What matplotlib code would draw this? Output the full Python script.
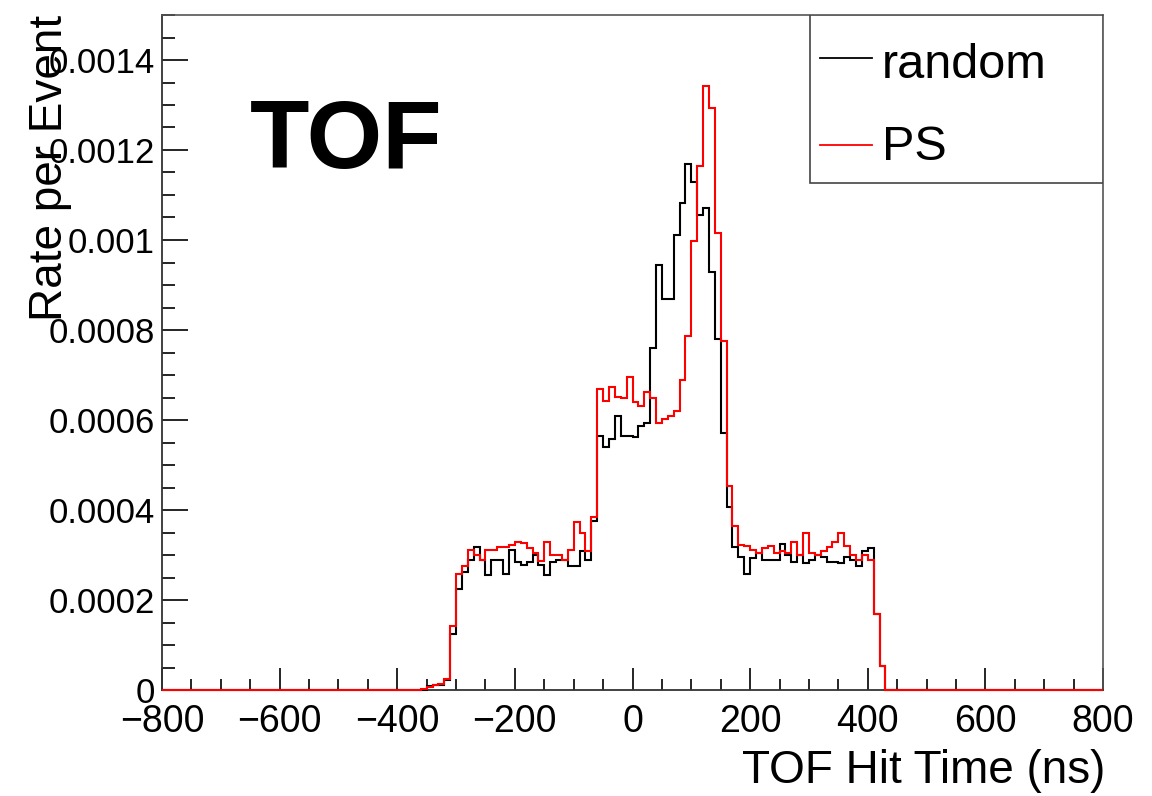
# TOF hit time: random vs PS trigger, ROOT-style step histograms
import matplotlib
matplotlib.use("Agg")
import matplotlib.pyplot as plt
import numpy as np
from matplotlib.ticker import MultipleLocator, FuncFormatter

plt.rcParams['font.family'] = ['Liberation Sans', 'DejaVu Sans']

# histogram binning (ns)
x_min, x_max, bin_w = -800, 800, 10
first_bin = -360   # low edge of first bin that holds the readings below

# rate per event, in units of 1e-6, bins -360 .. 430 (low edges)
random_rate = [0, 8, 12, 12, 22, 124, 225, 262, 290, 318,
               290, 255, 290, 290, 258, 312, 285, 278, 285, 300,
               278, 255, 285, 290, 290, 275, 275, 310, 290, 376,
               565, 539, 557, 609, 565, 565, 563, 587, 594, 760,
               945, 868, 868, 1012, 1082, 1170, 1130, 1056, 1071, 929,
               779, 572, 406, 317, 295, 257, 294, 305, 290, 290,
               290, 325, 300, 285, 300, 283, 290, 300, 295, 285,
               285, 282, 295, 290, 275, 310, 316, 168, 54, 0]

ps_rate = [2, 6, 11, 13, 25, 142, 257, 275, 312, 300,
           290, 312, 312, 318, 318, 323, 330, 327, 315, 305,
           287, 330, 300, 300, 290, 312, 373, 349, 310, 384,
           668, 642, 673, 651, 650, 695, 640, 631, 663, 650,
           594, 602, 609, 620, 690, 786, 997, 1165, 1342, 1294,
           1015, 775, 454, 365, 323, 320, 312, 305, 315, 320,
           305, 310, 305, 329, 300, 349, 305, 300, 310, 318,
           330, 349, 320, 300, 290, 300, 290, 168, 54, 0]

series_labels = ["random", "PS"]
series_colors = ["#000000", "#ff0000"]

edges = np.arange(x_min, x_max + bin_w, bin_w)
n_left = (first_bin - x_min) // bin_w


def full_hist(vals):
    h = np.zeros(len(edges) - 1)
    h[n_left:n_left + len(vals)] = np.array(vals) * 1e-6
    return h


fig = plt.figure(figsize=(11.52, 7.96), dpi=100)
ax = fig.add_axes([162 / 1152, 1 - 690 / 796, 941 / 1152, 675 / 796])

for vals, lab, col in zip([random_rate, ps_rate], series_labels, series_colors):
    ax.stairs(full_hist(vals), edges, color=col, lw=1.5, baseline=None,
              zorder=3, clip_on=False)

ax.set_xlim(x_min, x_max)
ax.set_ylim(0, 0.0015)

ax.xaxis.set_major_locator(MultipleLocator(200))
ax.xaxis.set_minor_locator(MultipleLocator(50))
ax.yaxis.set_major_locator(MultipleLocator(0.0002))
ax.yaxis.set_minor_locator(MultipleLocator(0.00005))
ax.yaxis.set_major_formatter(FuncFormatter(lambda v, p: "%g" % round(v, 6)))

ax.tick_params(axis='x', which='major', direction='in', length=16, width=1.2,
               labelsize=27, pad=10)
ax.tick_params(axis='x', which='minor', direction='in', length=8, width=1.2)
ax.tick_params(axis='y', which='major', direction='in', length=19, width=1.2,
               labelsize=25, pad=5)
ax.tick_params(axis='y', which='minor', direction='in', length=9, width=1.2)

for side in ['left', 'bottom']:
    ax.spines[side].set_color('#333333')
    ax.spines[side].set_linewidth(1.3)
for side in ['top', 'right']:
    ax.spines[side].set_color('#555555')
    ax.spines[side].set_linewidth(1.2)

# axis titles
fig.text(1105 / 1152, 1 - 783 / 796, "TOF Hit Time (ns)", ha='right',
         va='baseline', fontsize=33)
fig.text(62 / 1152, 1 - 15 / 796, "Rate per Event", rotation=90,
         rotation_mode='anchor', ha='right', va='baseline', fontsize=33)

# big label
ax.text(0.0935, 0.773, "TOF", transform=ax.transAxes, fontsize=70,
        fontweight='bold', ha='left', va='baseline')

# legend box (ROOT TLegend style)
ax.add_patch(plt.Rectangle((0.6886, 0.751), 0.3114, 0.249, transform=ax.transAxes,
                           facecolor='white', edgecolor='#444444', lw=1.2, zorder=5))
leg_y = [0.936, 0.807]
leg_base = [0.907, 0.785]
for lab, col, ly, lb in zip(series_labels, series_colors, leg_y, leg_base):
    ax.plot([0.699, 0.7545], [ly, ly], transform=ax.transAxes, color=col,
            lw=1.3, zorder=6)
    ax.text(0.765, lb, lab, transform=ax.transAxes, fontsize=35,
            ha='left', va='baseline', zorder=6)

fig.savefig("out.png", dpi=100)
